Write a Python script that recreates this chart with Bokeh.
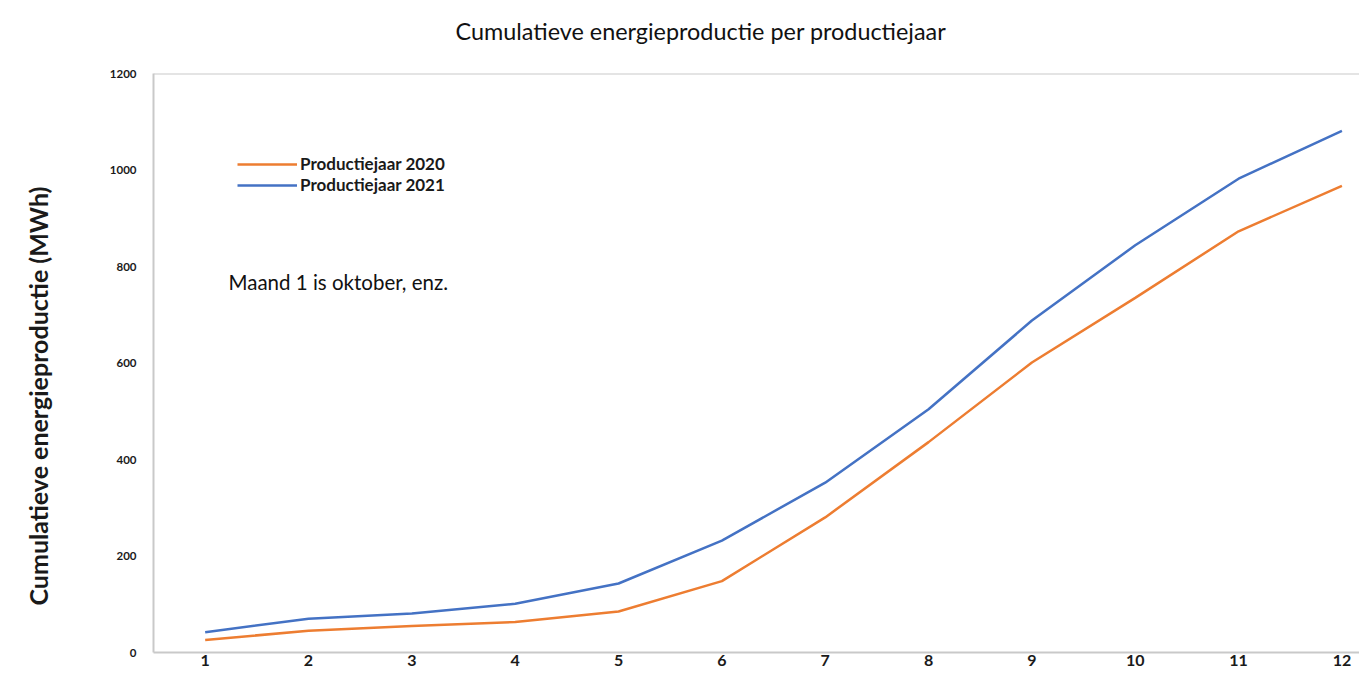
from bokeh.plotting import figure
from bokeh.models import Range1d, FixedTicker, Span, Label, Legend, LegendItem, Title
from bokeh.embed import file_html
from bokeh.resources import INLINE

months = [1, 2, 3, 4, 5, 6, 7, 8, 9, 10, 11, 12]
prod_2020 = [26, 45, 55, 63, 85, 148, 280, 436, 601, 735, 873, 967]
prod_2021 = [42, 70, 81, 101, 143, 232, 352, 504, 688, 844, 982, 1081]
y_ticks = [0, 200, 400, 600, 800, 1000, 1200]
title_text = "Cumulatieve energieproductie per productiejaar"
y_label = "Cumulatieve energieproductie (MWh)"
note_text = "Maand 1 is oktober, enz."
series_names = ["Productiejaar 2020", "Productiejaar 2021"]

FONT = "Lato"
GRAY = "#c9c9c9"
INK = "#1a1a1a"

p = figure(width=1359, height=682, output_backend="svg", toolbar_location=None,
           x_range=Range1d(0.5, 12.17), y_range=Range1d(0, 1200),
           min_border_left=153, min_border_right=0, min_border_top=73,
           min_border_bottom=30)
p.title = None
p.outline_line_color = None
p.xgrid.visible = False
p.ygrid.visible = False

# axes
p.yaxis.ticker = FixedTicker(ticks=y_ticks)
p.xaxis.ticker = FixedTicker(ticks=months)
for ax in (p.xaxis[0], p.yaxis[0]):
    ax.axis_line_color = GRAY
    ax.axis_line_width = 2
    ax.major_tick_line_color = None
    ax.minor_tick_line_color = None
    ax.major_tick_out = 0
    ax.major_tick_in = 0
    ax.major_label_text_font = FONT
    ax.major_label_text_font_style = "bold"
    ax.major_label_text_color = INK
p.yaxis.major_label_text_font_size = "11.5px"
p.yaxis.major_label_standoff = 17
p.xaxis.major_label_text_font_size = "16px"
p.xaxis.major_label_standoff = 2

# above: blank spacer, then the main title
p.add_layout(Title(text=" ", text_font_size="10px", standoff=14), "above")
p.add_layout(Title(text=title_text, align="left", offset=302, standoff=0,
                   vertical_align="top", text_font=FONT, text_font_size="23.4px",
                   text_font_style="normal", text_color="#111111"), "above")

# left side: blank spacer, then the y-axis title
p.add_layout(Title(text=" ", text_font_size="10px", standoff=39), "left")
p.add_layout(Title(text=y_label, align="left", offset=47, standoff=0,
                   vertical_align="top", text_font=FONT, text_font_size="25px",
                   text_font_style="bold", text_color=INK), "left")

p.add_layout(Span(location=1200, dimension="width", line_color=GRAY, line_width=2))

r20 = p.line(months, prod_2020, line_color="#ed7d31", line_width=2.5)
r21 = p.line(months, prod_2021, line_color="#4472c4", line_width=2.5)

legend = Legend(items=[LegendItem(label=series_names[0], renderers=[r20]),
                       LegendItem(label=series_names[1], renderers=[r21])],
                location=(84, 457))
legend.glyph_width = 60
legend.glyph_height = 16
legend.label_height = 16
legend.spacing = 0
legend.padding = 0
legend.margin = 0
legend.label_standoff = 3
legend.label_text_font = FONT
legend.label_text_font_size = "17px"
legend.label_text_font_style = "bold"
legend.label_text_color = INK
legend.border_line_color = None
legend.background_fill_alpha = 0
p.add_layout(legend, "center")

p.add_layout(Label(x=75, y=371, x_units="screen", y_units="screen", text=note_text,
                   text_font=FONT, text_font_size="20.5px", text_color="#111111",
                   text_baseline="middle"))

open("out.html", "w").write(file_html(p, INLINE))
